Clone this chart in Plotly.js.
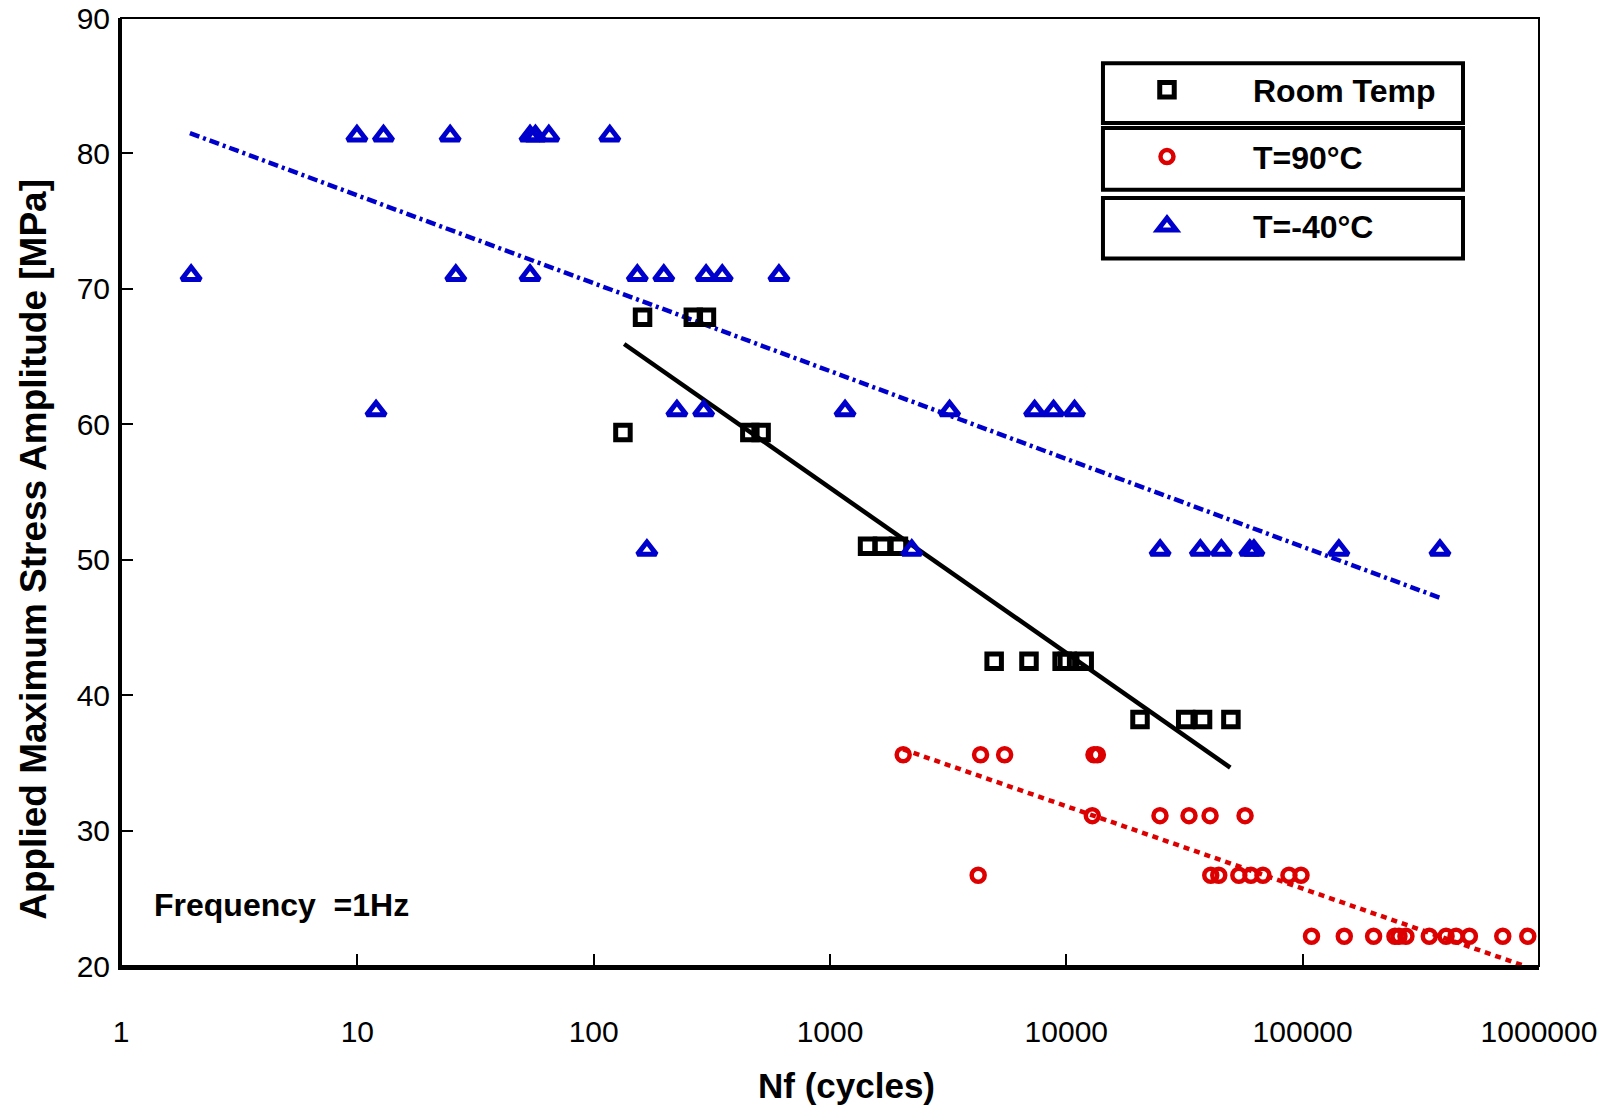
<!DOCTYPE html>
<html>
<head>
<meta charset="utf-8">
<script src="https://cdn.plot.ly/plotly-3.0.1.min.js"></script>
<style>html,body{margin:0;padding:0;background:#fff;}#chart{width:1612px;height:1109px;}</style>
</head>
<body>
<div id="chart"></div>
<script>
// ---- Data ----
const roomN = [161, 264, 300, 133, 458, 511, 1442, 1667, 1948, 4950, 6950, 9600, 10100, 11900, 20500, 32000, 37700, 49700];
const roomS = [67.9, 67.9, 67.9, 59.4, 59.4, 59.4, 51.0, 51.0, 51.0, 42.5, 42.5, 42.5, 42.5, 42.5, 38.2, 38.2, 38.2, 38.2];

const hotN = [2040, 4336, 5481, 13090, 13530,
              12880, 24900, 33040, 40560, 57050,
              4236, 40840, 44150, 53700, 60400, 67900, 87500, 98400,
              109000, 150000, 199600, 245700, 255500, 273500, 343400, 404300, 445900, 507500, 702600, 896400];
const hotS = [35.6, 35.6, 35.6, 35.6, 35.6,
              31.1, 31.1, 31.1, 31.1, 31.1,
              26.7, 26.7, 26.7, 26.7, 26.7, 26.7, 26.7, 26.7,
              22.2, 22.2, 22.2, 22.2, 22.2, 22.2, 22.2, 22.2, 22.2, 22.2, 22.2, 22.2];

const coldN = [9.96, 12.9, 24.7, 53.8, 56.7, 64.6, 117,
               1.98, 26.1, 53.8, 153, 198, 299, 350, 608,
               12.0, 225, 292, 1158, 3206, 7340, 8830, 10830,
               168, 2218, 24940, 36900, 45290, 59750, 62200, 142300, 381000];
const coldS = [81.3, 81.3, 81.3, 81.3, 81.3, 81.3, 81.3,
               71.0, 71.0, 71.0, 71.0, 71.0, 71.0, 71.0, 71.0,
               61.0, 61.0, 61.0, 61.0, 61.0, 61.0, 61.0, 61.0,
               50.7, 50.7, 50.7, 50.7, 50.7, 50.7, 50.7, 50.7, 50.7];

// fit line end points
const roomFitN = [134.6, 49400];
const roomFitS = [65.93, 34.65];
const hotFitN = [2040, 869000];
const hotFitS = [36.0, 20.0];
const coldFitN = [1.957, 382000];
const coldFitS = [81.5, 47.18];

const xTickVals = [1, 10, 100, 1000, 10000, 100000, 1000000];
const xTickText = ['1', '10', '100', '1000', '10000', '100000', '1000000'];
const seriesNames = ['Room Temp', 'T=90°C', 'T=-40°C'];
const xTitle = 'Nf (cycles)';
const yTitle = 'Applied Maximum Stress Amplitude [MPa]';
const noteText = 'Frequency\u00a0\u00a0=1Hz';

// ---- Styling ----
const BLACK = '#000000', RED = '#dd0000', BLUE = '#0000cc';
const FONT = 'Liberation Sans, Arial, Helvetica, sans-serif';

const traces = [
  {x: roomFitN, y: roomFitS, mode: 'lines', line: {color: BLACK, width: 4.5}, showlegend: false, hoverinfo: 'skip'},
  {x: hotFitN, y: hotFitS, mode: 'lines', line: {color: RED, width: 4.5, dash: '6px,5px'}, showlegend: false, hoverinfo: 'skip'},
  {x: coldFitN, y: coldFitS, mode: 'lines', line: {color: BLUE, width: 4.5, dash: '10px,4px,3px,4px'}, showlegend: false, hoverinfo: 'skip'},
  {x: roomN, y: roomS, mode: 'markers', name: '<b>' + seriesNames[0] + '</b>', legend: 'legend',
   marker: {symbol: 'square-open', size: 14.5, color: BLACK, line: {color: BLACK, width: 5}}},
  {x: hotN, y: hotS, mode: 'markers', name: '<b>' + seriesNames[1] + '</b>', legend: 'legend2',
   marker: {symbol: 'circle-open', size: 13, color: RED, line: {color: RED, width: 4.5}}},
  {x: coldN, y: coldS, mode: 'markers', name: '<b>' + seriesNames[2] + '</b>', legend: 'legend3',
   marker: {symbol: 'triangle-up-open', size: 16.5, color: BLUE, line: {color: BLUE, width: 5}}}
];

function legendCfg(yc) {
  return {x: 0.677, y: yc, xanchor: 'left', yanchor: 'middle', bgcolor: 'rgba(0,0,0,0)',
          borderwidth: 0, itemwidth: 162, font: {family: FONT, size: 32, color: BLACK}};
}
function box(y0, y1) {
  return {type: 'rect', xref: 'paper', yref: 'paper', x0: 0.6925, x1: 0.9464, y0: y0, y1: y1,
          line: {color: BLACK, width: 4}, fillcolor: 'rgba(0,0,0,0)', layer: 'above'};
}

const layout = {
  width: 1612, height: 1109,
  margin: {l: 121, r: 73, t: 18, b: 143},
  paper_bgcolor: '#fff', plot_bgcolor: '#fff',
  font: {family: FONT, color: BLACK},
  showlegend: true,
  legend: legendCfg(0.9240),
  legend2: legendCfg(0.8536),
  legend3: legendCfg(0.7804),
  xaxis: {
    type: 'log', range: [0, 6],
    tickmode: 'array', tickvals: xTickVals, ticktext: xTickText,
    ticks: 'inside', ticklen: 12, tickwidth: 2, tickcolor: BLACK,
    showline: true, linewidth: 4, linecolor: BLACK,
    showgrid: false, zeroline: false,
    tickfont: {family: FONT, size: 30, color: BLACK},
    ticklabelstandoff: 36
  },
  yaxis: {
    range: [20, 90], dtick: 10, tick0: 20,
    ticks: 'inside', ticklen: 12, tickwidth: 2, tickcolor: BLACK,
    showline: true, linewidth: 3, linecolor: BLACK,
    showgrid: false, zeroline: false,
    tickfont: {family: FONT, size: 30, color: BLACK},
    ticklabelstandoff: 2
  },
  shapes: [
    {type: 'rect', xref: 'paper', yref: 'paper', x0: 0, x1: 1, y0: 0, y1: 1,
     line: {color: BLACK, width: 2}, fillcolor: 'rgba(0,0,0,0)', layer: 'above'},
    box(0.8893, 0.9523), box(0.8188, 0.8839), box(0.7462, 0.8101)
  ],
  annotations: [
    {xref: 'paper', yref: 'paper', x: 0.1135, y: 0.0644, xanchor: 'center', yanchor: 'middle',
     text: '<b>' + noteText + '</b>', showarrow: false, font: {family: FONT, size: 32, color: BLACK}},
    {xref: 'paper', yref: 'paper', x: 0.5117, y: -0.1262, xanchor: 'center', yanchor: 'middle',
     text: '<b>' + xTitle + '</b>', showarrow: false, font: {family: FONT, size: 35, color: BLACK}},
    {xref: 'paper', yref: 'paper', x: -0.0614, y: 0.440, xanchor: 'center', yanchor: 'middle', textangle: -90,
     text: '<b>' + yTitle + '</b>', showarrow: false, font: {family: FONT, size: 37, color: BLACK}}
  ]
};

Plotly.newPlot('chart', traces, layout, {displayModeBar: false, staticPlot: true});
</script>
</body>
</html>
